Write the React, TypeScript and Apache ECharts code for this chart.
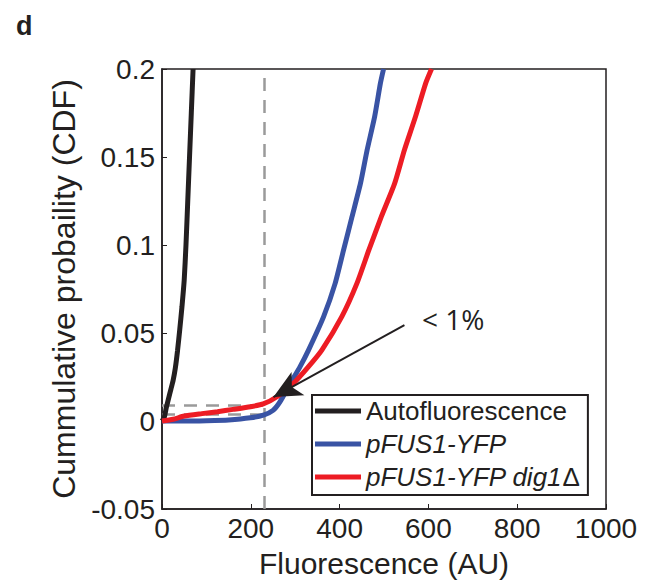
import React, { useEffect, useRef } from "react";
import * as echarts from "echarts";

const xTicks = [0, 200, 400, 600, 800, 1000];
const yTickLabels = ["-0.05", "0", "0.05", "0.1", "0.15", "0.2"];

const autoFl: [number, number][] = [
  [0, 0], [5, 0.002], [10, 0.008], [15, 0.013], [20, 0.018], [25, 0.023],
  [30, 0.03], [35, 0.04], [40, 0.052], [45, 0.065], [50, 0.08], [54, 0.1],
  [58, 0.125], [62, 0.15], [66, 0.175], [70, 0.2],
];

const pfus: [number, number][] = [
  [0, 0], [50, 0], [100, 0.0002], [150, 0.0006], [199, 0.0018], [230, 0.0035],
  [250, 0.006], [266, 0.011], [289, 0.0214], [311, 0.0309], [330, 0.0403],
  [364, 0.0593], [390, 0.0782], [409, 0.0972], [428, 0.1161], [447, 0.135],
  [462, 0.154], [479, 0.173], [492, 0.192], [499, 0.2],
];

const pfusDig: [number, number][] = [
  [0, 0], [25, 0.001], [50, 0.0028], [90, 0.0042], [125, 0.0053], [160, 0.0066],
  [199, 0.0081], [228, 0.0097], [259, 0.0138], [296, 0.0214], [330, 0.0309],
  [360, 0.0403], [405, 0.0593], [439, 0.0782], [466, 0.0972], [494, 0.1161],
  [524, 0.135], [546, 0.154], [571, 0.173], [594, 0.192], [607, 0.2],
];

const thresholdX = 231;
const thresholdYs = [0.0091, 0.004];
const arrowFrom: [number, number] = [546, 0.0545];
const arrowTo: [number, number] = [251, 0.0136];

const names = ["Autofluorescence", "pFUS1-YFP", "pFUS1-YFP dig1Δ"];

export default function App() {
  const ref = useRef<HTMLDivElement>(null);
  useEffect(() => {
    if (!ref.current) return;
    const chart = echarts.init(ref.current, null, { renderer: "svg" });
    const font = "Liberation Sans";
    const dashStyle = { color: "#9a9a9a", width: 2.5, type: [13, 9] as any };
    chart.setOption({
      animation: false,
      backgroundColor: "#ffffff",
      grid: {
        left: 162, top: 69, right: 41, bottom: 79,
        show: true, borderColor: "#231f20", borderWidth: 1.5,
      },
      title: {
        text: "d", left: 11, top: 7,
        textStyle: { fontFamily: font, fontWeight: "bold", fontSize: 27, color: "#231f20" },
      },
      xAxis: {
        type: "value", min: 0, max: 1000, interval: 200,
        name: "Fluorescence (AU)", nameLocation: "middle", nameGap: 39,
        nameTextStyle: { fontFamily: font, fontSize: 30, color: "#231f20" },
        axisLine: { show: true, onZero: false, lineStyle: { color: "#231f20", width: 1.5 } },
        axisTick: { show: true, inside: true, length: 5, lineStyle: { color: "#231f20" } },
        axisLabel: {
          fontFamily: font, fontSize: 28, color: "#231f20", margin: 5,
          formatter: (v: number) => String(xTicks.find((t) => Math.abs(t - v) < 1e-6) ?? v),
        },
        splitLine: { show: false },
      },
      yAxis: {
        type: "value", min: -0.05, max: 0.2, interval: 0.05,
        name: "Cummulative probaility (CDF)", nameLocation: "middle", nameGap: 79,
        nameTextStyle: { fontFamily: font, fontSize: 32, color: "#231f20" },
        axisLine: { show: true, onZero: false, lineStyle: { color: "#231f20", width: 1.5 } },
        axisTick: { show: true, inside: true, length: 5, lineStyle: { color: "#231f20" } },
        axisLabel: {
          fontFamily: font, fontSize: 28, color: "#231f20", margin: 7,
          formatter: (v: number) => {
            const i = Math.round((v + 0.05) / 0.05);
            return yTickLabels[i] ?? String(v);
          },
        },
        splitLine: { show: false },
      },
      legend: {
        orient: "vertical", left: 312, top: 395,
        data: names,
        backgroundColor: "#ffffff",
        borderColor: "#231f20", borderWidth: 2, borderRadius: 0,
        padding: [3, 8, 5, 3],
        itemWidth: 46, itemHeight: 5, itemGap: 7, icon: "rect",
        formatter: (n: string) => {
          if (n === "Autofluorescence") return "{n|" + n + "}";
          if (n === "pFUS1-YFP") return "{i|pFUS1-YFP}";
          return "{i|pFUS1-YFP dig1}{n|Δ}";
        },
        textStyle: {
          fontFamily: font, fontSize: 26, color: "#231f20", lineHeight: 25,
          rich: {
            n: { fontFamily: font, fontSize: 26, color: "#231f20", lineHeight: 25 },
            i: { fontFamily: font, fontSize: 26, fontStyle: "italic", color: "#231f20", lineHeight: 25 },
          },
        },
      },
      graphic: [
        {
          type: "text", left: 422, top: 305, z: 10,
          style: { text: "< 1%", font: '28px "Open Sans"', fill: "#231f20" },
        },
      ],
      series: [
        {
          name: names[0], type: "line", data: autoFl, smooth: 0.2, showSymbol: false, z: 3,
          lineStyle: { color: "#231f20", width: 5 }, itemStyle: { color: "#231f20" },
          markLine: {
            silent: true, symbol: "none", z: 1, label: { show: false },
            lineStyle: dashStyle,
            data: [
              [{ coord: [thresholdX, -0.05] }, { coord: [thresholdX, 0.2] }],
              ...thresholdYs.map((y) => [{ coord: [0, y] }, { coord: [thresholdX, y] }]),
            ],
          },
        },
        {
          name: names[1], type: "line", data: pfus, smooth: 0.2, showSymbol: false, z: 3,
          lineStyle: { color: "#3953a4", width: 5 }, itemStyle: { color: "#3953a4" },
        },
        {
          name: names[2], type: "line", data: pfusDig, smooth: 0.2, showSymbol: false, z: 4,
          lineStyle: { color: "#ed1c24", width: 5 }, itemStyle: { color: "#ed1c24" },
          markLine: {
            silent: true, z: 6, symbol: ["none", "arrow"], symbolSize: [20, 28],
            label: { show: false },
            lineStyle: { color: "#231f20", width: 2, type: "solid" },
            itemStyle: { color: "#231f20" },
            data: [[{ coord: arrowFrom }, { coord: arrowTo }]],
          },
        },
      ],
    });
    return () => chart.dispose();
  }, []);
  return (
    <div
      ref={ref}
      style={{ position: "fixed", left: 0, top: 0, width: 647, height: 588 }}
    />
  );
}
